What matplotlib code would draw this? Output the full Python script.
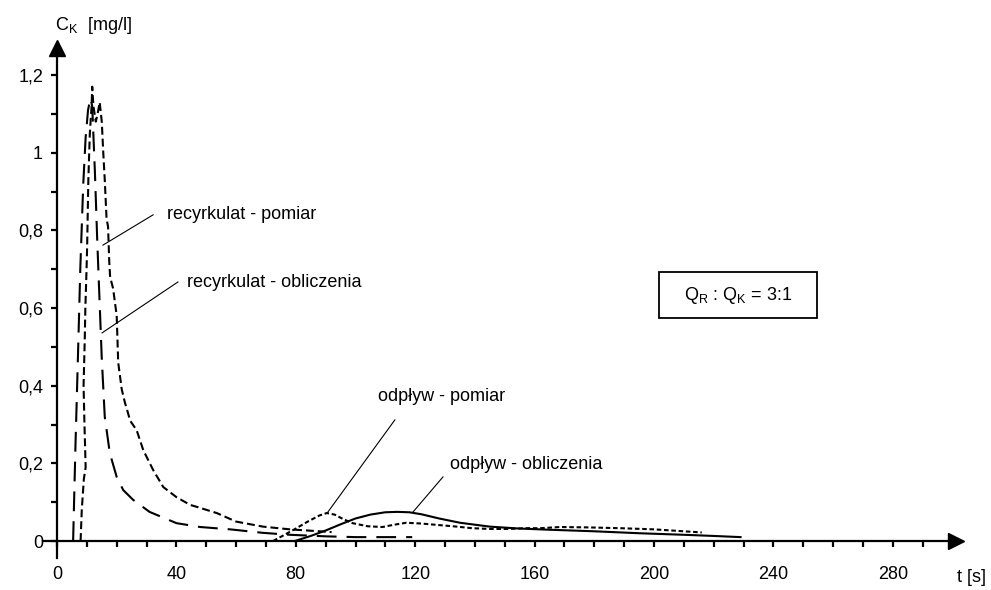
import matplotlib
matplotlib.use("Agg")
import matplotlib.pyplot as plt
import matplotlib.patches as patches
import numpy as np

plt.rcParams['font.family'] = ['Liberation Sans', 'DejaVu Sans']

# recyrkulat - obliczenia (model)
t_rec_obl = [5.4, 6.2, 7.0, 7.8, 8.8, 9.6, 10.4, 11.2, 11.8, 12.7, 13.5, 14.5, 15.0,
             16.0, 17.7, 20.0, 22.2, 25.5, 31.0, 40.0, 48.0, 58.0, 69.0, 78.0, 90.0,
             100.0, 110.0, 119.0]
c_rec_obl = [0.0, 0.25, 0.47, 0.70, 0.92, 1.04, 1.11, 1.14, 1.12, 0.95, 0.77, 0.57, 0.47,
             0.32, 0.226, 0.165, 0.131, 0.106, 0.075, 0.046, 0.036, 0.030, 0.021, 0.016, 0.012,
             0.010, 0.010, 0.010]

# recyrkulat - pomiar (measured)
t_rec_pom = [7.9, 8.3, 9.0, 9.6, 9.2, 8.9, 9.3, 9.5, 9.9, 10.1, 10.5, 11.0, 11.6, 11.8,
             12.2, 13.0, 13.6, 14.3, 15.0, 15.5, 16.0, 16.6, 17.1, 17.5, 17.8, 18.8, 20.0,
             20.5, 21.7, 22.8, 23.4, 24.5, 26.7, 28.9, 32.2, 35.6, 40.0, 44.6, 46.8, 53.5,
             60.0, 69.0, 78.0, 86.0, 92.0]
c_rec_pom = [0.0, 0.08, 0.16, 0.19, 0.30, 0.40, 0.52, 0.60, 0.70, 0.76, 0.93, 1.05, 1.12, 1.17,
             1.12, 1.08, 1.10, 1.13, 1.08, 1.00, 0.93, 0.83, 0.81, 0.72, 0.68, 0.65, 0.58,
             0.46, 0.39, 0.355, 0.34, 0.31, 0.285, 0.234, 0.183, 0.139, 0.113, 0.093, 0.088, 0.072,
             0.050, 0.037, 0.030, 0.026, 0.023]

# odpływ - pomiar (measured)
t_odp_pom = [72.4, 76, 80, 84, 88, 90.4, 93, 96, 99, 104, 109, 113, 117, 122, 128, 134,
             139, 145, 151, 157, 162, 168.5, 178, 188.6, 200, 208, 216]
c_odp_pom = [0.0, 0.015, 0.032, 0.050, 0.066, 0.072, 0.068, 0.056, 0.046, 0.038, 0.036, 0.042,
             0.047, 0.045, 0.041, 0.037, 0.033, 0.031, 0.031, 0.033, 0.033, 0.036, 0.035, 0.033,
             0.030, 0.026, 0.022]

# odpływ - obliczenia (model)
t_odp_obl = [79.7, 85, 90, 95, 100, 105, 110, 114, 118, 122, 128, 135, 145, 155, 165, 180,
             195, 210, 220, 229]
c_odp_obl = [0.0, 0.013, 0.027, 0.043, 0.058, 0.068, 0.074, 0.075, 0.074, 0.069, 0.058, 0.047,
             0.037, 0.032, 0.029, 0.025, 0.020, 0.016, 0.013, 0.010]

W, H = 991, 590
fig = plt.figure(figsize=(W / 100, H / 100), dpi=100)
ax = fig.add_axes([0, 0, 1, 1])

# pixel layout of the axes: origin at (57, 541), 2.985 px per second, 388.3 px per mg/l
x0, y0, kx, ky = 57, 541, 2.985, 388.3
ax.set_xlim(-x0 / kx, (W - x0) / kx)
ax.set_ylim((y0 - H) / ky, y0 / ky)
ax.patch.set_visible(False)

ax.plot(t_rec_obl, c_rec_obl, color='black', lw=1.5, dashes=(9.5, 4.8))
ax.plot(t_rec_pom, c_rec_pom, color='black', lw=1.5, dashes=(3.8, 1.9))
ax.plot(t_odp_pom, c_odp_pom, color='black', lw=1.5, dashes=(2.2, 1.3))
ax.plot(t_odp_obl, c_odp_obl, color='black', lw=1.5)

# axes as crossed lines with arrows
for s in ['top', 'right']:
    ax.spines[s].set_visible(False)
ax.spines['left'].set_position(('data', 0))
ax.spines['bottom'].set_position(('data', 0))
ax.spines['left'].set_bounds(-0.044, 1.27)
ax.spines['bottom'].set_bounds(-4.7, 301)
ax.spines['left'].set_linewidth(1.6)
ax.spines['bottom'].set_linewidth(1.6)
ax.plot([301.3], [0], marker='>', color='black', markersize=12, clip_on=False)
ax.plot([0], [1.27], marker='^', color='black', markersize=12, clip_on=False)

xt = np.arange(0, 300, 10)
ax.set_xticks(xt)
ax.set_xticklabels([str(v) if v % 40 == 0 else '' for v in xt])
yt = np.round(np.arange(0, 1.25, 0.1), 1)
ax.set_yticks(yt)
ax.set_yticklabels([('%g' % v).replace('.', ',') if round(v * 10) % 2 == 0 else '' for v in yt])
ax.tick_params(axis='x', direction='out', length=4, width=1.6, pad=14, labelsize=13)
ax.tick_params(axis='y', direction='out', length=4, width=1.6, pad=6, labelsize=13)

# labels with leader lines
fs = 13
ax.text(36.9, 0.84, 'recyrkulat - pomiar', fontsize=fs, va='center', ha='left')
ax.plot([32.2, 15.4], [0.84, 0.762], color='black', lw=0.8)
ax.text(43.6, 0.667, 'recyrkulat - obliczenia', fontsize=fs, va='center', ha='left')
ax.plot([40.5, 15.1], [0.667, 0.536], color='black', lw=0.8)
ax.text(107.5, 0.371, 'odpływ - pomiar', fontsize=fs, va='center', ha='left')
ax.plot([113.2, 90.5], [0.312, 0.072], color='black', lw=0.8)
ax.text(131.7, 0.196, 'odpływ - obliczenia', fontsize=fs, va='center', ha='left')
ax.plot([129.3, 119.3], [0.165, 0.075], color='black', lw=0.8)

fig.text(55 / W, 1 - 25 / H, r'C$_\mathregular{K}$  [mg/l]', fontsize=fs, va='center', ha='left')
fig.text(957 / W, 1 - 577 / H, 't [s]', fontsize=fs, va='center', ha='left')

box = patches.Rectangle((659 / W, 1 - 318 / H), 158 / W, 46 / H, transform=fig.transFigure,
                        fill=False, lw=1.3, edgecolor='black')
fig.patches.append(box)
fig.text(738 / W, 1 - 296 / H, r'Q$_\mathregular{R}$ : Q$_\mathregular{K}$ = 3:1',
         fontsize=fs, va='center', ha='center')

fig.savefig('out.png', dpi=100)
